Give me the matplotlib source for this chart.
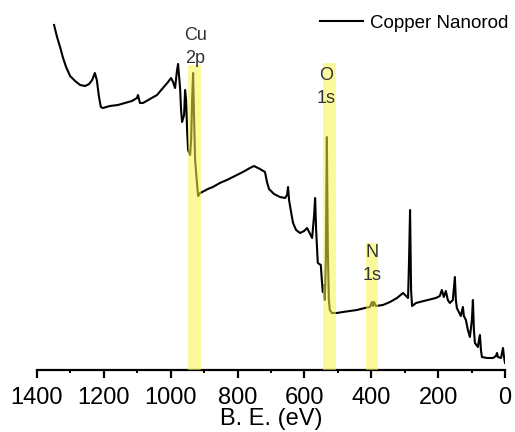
import matplotlib
matplotlib.use("Agg")
import matplotlib.pyplot as plt
from matplotlib.ticker import MultipleLocator

# survey spectrum (binding energy in eV, intensity in a.u.)
be = [1349, 1340, 1331, 1322, 1313, 1301, 1286, 1271, 1256, 1244, 1235, 1227,
      1221, 1215, 1209, 1203, 1182, 1158, 1137, 1116, 1101, 1098, 1092, 1083,
      1062, 1041, 1023, 1008, 999, 993, 987, 981, 978, 972, 969, 966, 960, 957,
      954, 951, 948, 942, 939, 936, 933, 930, 927, 921, 918, 912, 900, 889, 874,
      853, 832, 808, 784, 763, 751, 733, 718, 712, 706, 691, 673, 658, 652, 649,
      646, 640, 634, 625, 613, 601, 592, 583, 577, 571, 568, 565, 562, 560, 551,
      548, 545, 542, 539, 536, 533, 530, 527, 524, 518, 503, 485, 464, 443, 419,
      404, 398, 395, 392, 386, 365, 344, 323, 305, 296, 290, 287, 284, 281, 278,
      266, 255, 231, 207, 195, 189, 183, 177, 171, 165, 156, 150, 147, 144, 138,
      132, 126, 123, 117, 111, 105, 99, 96, 93, 90, 81, 78, 75, 72, 69, 54, 36,
      27, 24, 21, 12, 6, 3, 0]
counts = [345, 333, 323, 312, 303, 294, 289, 285, 284, 286, 290, 297,
          290, 274, 263, 262, 264, 265, 267, 269, 272, 275, 267, 267,
          271, 275, 282, 288, 292, 288, 282, 300, 306, 282, 260, 248, 255, 280,
          270, 240, 220, 215, 230, 270, 297, 250, 210, 185, 174, 177, 179, 181, 183,
          187, 190, 194, 198, 202, 204, 201, 198, 188, 181, 176, 173, 172, 175, 183,
          170, 158, 147, 140, 137, 139, 142, 136, 132, 155, 172, 140, 120, 107, 105,
          90, 78, 85, 70, 110, 233, 120, 70, 60, 57, 57, 58, 59, 60, 62,
          63, 68, 64, 68, 64, 65, 68, 72, 77, 74, 72, 110, 160, 80, 64,
          67, 68, 70, 72, 74, 80, 73, 79, 70, 67, 70, 93, 70, 62, 58,
          54, 63, 54, 50, 40, 33, 50, 70, 40, 27, 23, 30, 35, 20, 13, 12, 12,
          14, 17, 13, 12, 22, 13, 7]

# highlighted peaks
peaks = ['Cu\n2p', 'O\n1s', 'N\n1s']
band_lo = [909, 507, 381]
band_hi = [948, 544, 417]
band_top = [305, 307, 127]
label_x = [927, 535, 398]
label_y = [323, 283, 106]

fig = plt.figure(figsize=(5.15, 4.32), dpi=100)
ax = fig.add_axes([37/515, 62/432, 468/515, 360/432])

ax.plot(be, counts, color='black', lw=1.5, label='Copper Nanorod', zorder=2)

#yellow bands sit on top of the line so it shows through olive
for lo, hi, top in zip(band_lo, band_hi, band_top):
    ax.bar((lo + hi)/2, top, width=hi - lo, bottom=0, color=(0.97, 0.97, 0.3),
           alpha=0.55, lw=0, zorder=3)

for txt, x, y in zip(peaks, label_x, label_y):
    ax.text(x, y, txt, ha='center', va='center', fontsize=13,
            family='Liberation Sans', color='#333333', linespacing=1.45,
            zorder=4)

ax.set_xlim(1400, 0)
ax.set_ylim(0, 360)
ax.xaxis.set_major_locator(MultipleLocator(200))
ax.xaxis.set_minor_locator(MultipleLocator(100))
ax.set_yticks([])
for s in ['left', 'top', 'right']:
    ax.spines[s].set_visible(False)
ax.spines['bottom'].set_linewidth(1.6)
ax.tick_params(axis='x', which='major', direction='out', length=5.5, width=1.6,
               pad=7, labelsize=17)
ax.tick_params(axis='x', which='minor', direction='out', length=2.5, width=1.4)
for lab in ax.get_xticklabels():
    lab.set_family('Liberation Sans')
ax.set_xlabel('B. E. (eV)', fontsize=17, family='Liberation Sans', labelpad=-1)

leg = ax.legend(loc='center right', bbox_to_anchor=(508/515, 1 - 23/432),
                bbox_transform=fig.transFigure, frameon=False, borderpad=0,
                borderaxespad=0, handlelength=2.3, handletextpad=0.35,
                prop={'family': 'Liberation Sans', 'size': 13.5})

fig.savefig('out.png', dpi=100)
